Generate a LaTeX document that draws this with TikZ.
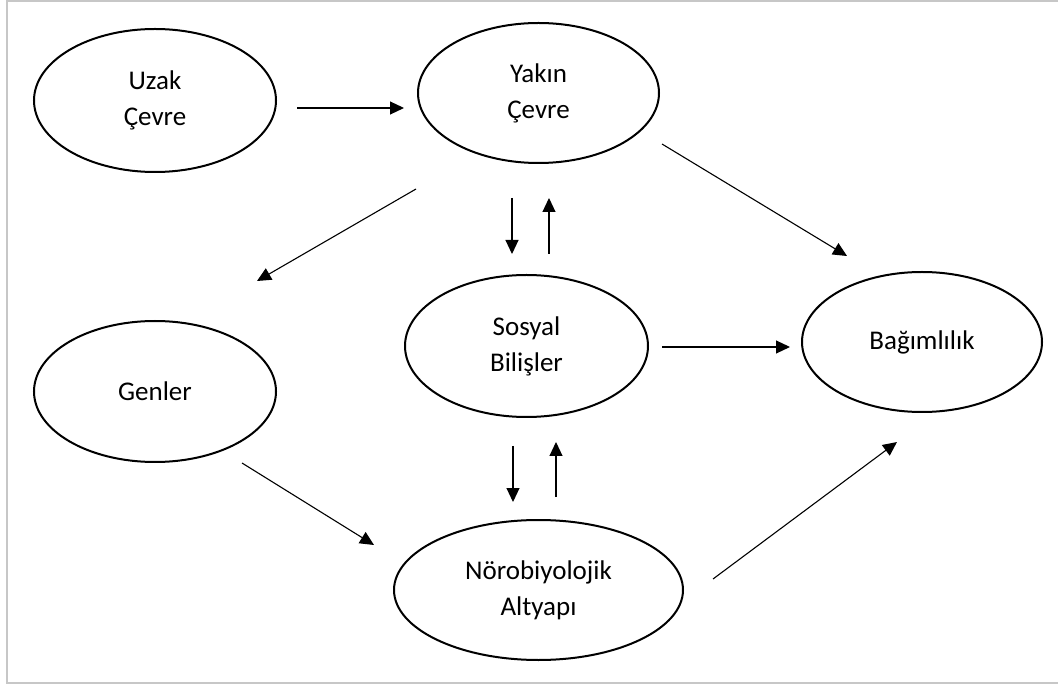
\documentclass[tikz,border=0pt]{standalone}
\usepackage{fontspec}
\setmainfont{Carlito}
\usetikzlibrary{shapes.geometric,arrows.meta}
\tikzset{
  oval/.style={ellipse, draw=black, line width=2pt, inner sep=0pt,
    align=center, font=\fontsize{27}{36}\selectfont, text=black},
  conn/.style={line width=1.1pt, -{Triangle[length=14pt,width=13pt]}},
  frame/.style={draw=black!22, line width=2pt}
}
\begin{document}
\begin{tikzpicture}[x=1pt,y=-1pt]
\useasboundingbox (0,0) rectangle (1058,684);
\draw[frame] (1058,1.5) -- (6.5,1.5) -- (6.5,682.5) -- (1058,682.5);

\node[oval, minimum width=242pt, minimum height=143pt] (uzak) at (155,100.5) {Uzak\\Çevre};
\node[oval, minimum width=241pt, minimum height=140pt] (yakin) at (538.5,93) {Yakın\\Çevre};
\node[oval, minimum width=242pt, minimum height=141pt] (genler) at (155,391.5) {Genler};
\node[oval, minimum width=243pt, minimum height=142pt] (sosyal) at (526.5,346) {Sosyal\\Bilişler};
\node[oval, minimum width=240pt, minimum height=140pt] (bag) at (922,342) {Bağımlılık};
\node[oval, minimum width=289pt, minimum height=140pt] (noro) at (538.5,590) {Nörobiyolojik\\Altyapı};

% connector end points (free ends)
\coordinate (a1s) at (297,108);   \coordinate (a1e) at (404,108);
\coordinate (a2s) at (416,189);   \coordinate (a2e) at (257,281);
\coordinate (a3s) at (662,144);   \coordinate (a3e) at (847,256);
\coordinate (a4s) at (512,198);   \coordinate (a4e) at (512,254);
\coordinate (a5s) at (549,254);   \coordinate (a5e) at (549,198);
\coordinate (a6s) at (662,347);   \coordinate (a6e) at (790,347);
\coordinate (a7s) at (513,446);   \coordinate (a7e) at (513,502);
\coordinate (a8s) at (556,497);   \coordinate (a8e) at (556,442);
\coordinate (a9s) at (242,463);   \coordinate (a9e) at (374,545);
\coordinate (a10s) at (713,579);  \coordinate (a10e) at (897,442);

\draw[conn] (a1s) -- (a1e);
\draw[conn] (a2s) -- (a2e);
\draw[conn] (a3s) -- (a3e);
\draw[conn] (a4s) -- (a4e);
\draw[conn] (a5s) -- (a5e);
\draw[conn] (a6s) -- (a6e);
\draw[conn] (a7s) -- (a7e);
\draw[conn] (a8s) -- (a8e);
\draw[conn] (a9s) -- (a9e);
\draw[conn] (a10s) -- (a10e);
\end{tikzpicture}
\end{document}
